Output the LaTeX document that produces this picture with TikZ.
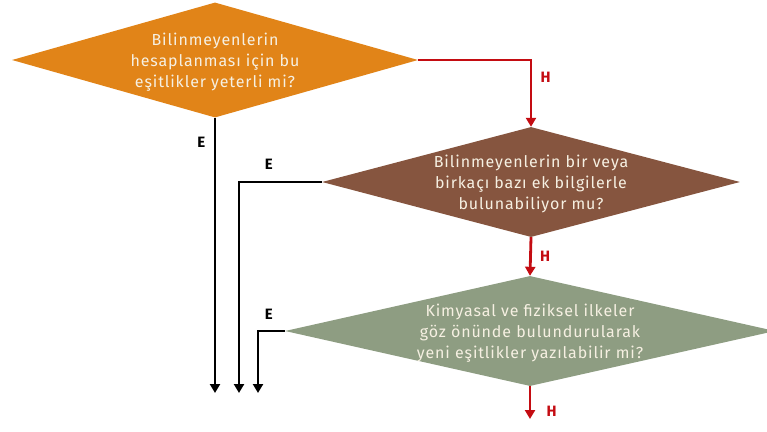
\documentclass[tikz,border=0pt]{standalone}
\usepackage{fontspec}
\setmainfont{Fira Sans}[LetterSpace=5.5]
\usetikzlibrary{positioning,arrows.meta,shapes.geometric}

\definecolor{qorange}{RGB}{225,132,24}
\definecolor{qbrown}{RGB}{134,85,63}
\definecolor{qgreen}{RGB}{142,157,130}
\definecolor{qtext}{RGB}{246,240,226}
\definecolor{qred}{RGB}{196,12,18}

\begin{document}
\begin{tikzpicture}[
  x=1pt, y=-1pt,
  every node/.style={font=\fontsize{16}{21}\selectfont},
  dec/.style={diamond,inner sep=0pt},
  txt/.style={text=qtext,align=center,yshift=-2pt},
  harr/.style={-{Triangle[length=9pt,width=10pt]},qred,line width=2.8pt},
  earr/.style={-{Triangle[length=9pt,width=10pt]},black,line width=2.8pt},
  lbl/.style={font=\fontsize{15}{17}\selectfont\bfseries}
]
\useasboundingbox (0,0) rectangle (767,431);

\node[dec, fill=qorange, minimum width=406pt, minimum height=115pt,
  label={[txt]center:{Bilinmeyenlerin\\hesaplanması için bu\\eşitlikler yeterli mi?}}] (d1) at (215,60) {};
\node[dec, fill=qbrown, minimum width=418pt, minimum height=110pt,
  label={[txt]center:{Bilinmeyenlerin bir veya\\birkaçı bazı ek bilgilerle\\bulunabiliyor mu?}}] (d2) at (531,182) {};
\node[dec, fill=qgreen, minimum width=490pt, minimum height=110pt,
  label={[txt]center:{Kimyasal ve fiziksel ilkeler\\göz önünde bulundurularak\\yeni eşitlikler yazılabilir mi?}}] (d3) at (530,331) {};

\coordinate (e1) at (215,393);
\coordinate (e2) at (239,393);
\coordinate (e3) at (258,393);
\coordinate (h3) at (530,419);

% H branches
\draw[harr] (d1.east) -| node[pos=0.63,right=5pt,lbl,text=qred]{H} (d2.north);
\draw[harr] (d2.south) -- node[midway,right=5pt,lbl,text=qred]{H} (d3.north);
\draw[harr] (d3.south) -- node[pos=0.75,right=12pt,lbl,text=qred]{H} (h3);

% E branches
\draw[earr] (d1.south) -- node[pos=0.09,left=5pt,lbl]{E} (e1);
\draw[earr] (d2.west) -| node[pos=0.32,above=8pt,lbl]{E} (e2);
\draw[earr] (d3.west) -| node[pos=0.3,above=7pt,lbl]{E} (e3);
\end{tikzpicture}
\end{document}
